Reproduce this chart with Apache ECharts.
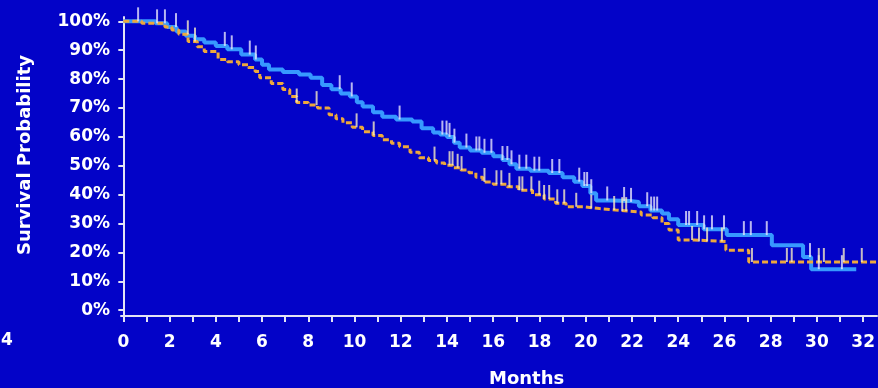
<!DOCTYPE html>
<html>
<head>
<meta charset="utf-8">
<script src="https://cdn.jsdelivr.net/npm/echarts@6/dist/echarts.min.js"></script>
<style>
html,body{margin:0;padding:0;background:#0303C8;}
#c{width:878px;height:388px;}
</style>
</head>
<body>
<div id="c"></div>
<script>
// ---- data ----
const xTickMonths = [0,1,2,3,4,5,6,7,8,9,10,11,12,13,14,15,16,17,18,19,20,21,22,23,24,25,26,27,28,29,30,31,32];
const xLabelMonths = [0,2,4,6,8,10,12,14,16,18,20,22,24,26,28,30,32];
const yTickValues = [0,10,20,30,40,50,60,70,80,90,100];

// blue arm (solid): times (months) and survival (%)
const blueTimes = [0,0.8,1.4,1.9,2.3,2.7,3.1,3.5,4.0,4.5,5.1,5.7,6.0,6.3,6.9,7.6,8.1,8.6,9.0,9.4,9.8,10.1,10.35,10.8,11.2,11.8,12.5,12.9,13.4,13.7,14.0,14.3,14.55,15.0,15.5,16.0,16.4,16.7,17.0,17.6,18.4,19.0,19.5,19.85,20.2,20.45,21.2,21.9,22.3,22.8,23.3,23.6,24.0,25.1,26.1,28.05,29.4,29.75,31.7];
const blueSurv  = [100,100,99.3,98,96.5,95,93.8,92.7,91.5,90.3,88.5,86.8,85,83.3,82.5,81.6,80.5,78,76.5,75,74,72,70.5,68.5,67,66,65.3,63,61.5,60.8,60,58,56.3,55.3,54.5,53.3,52,50.5,49,48.3,47.5,46,44.5,43,40.5,38,37.8,37.5,36,34.5,33.5,31.5,29.5,28,26,22.5,18.4,14.2,14.2];
const blueCensor = [0.64,1.46,1.8,2.28,4.39,4.69,5.47,5.73,9.36,9.88,11.95,13.8,13.98,14.11,14.32,14.84,15.27,15.4,15.62,15.92,16.4,16.61,16.79,17.13,17.43,17.78,17.99,18.55,18.86,19.72,19.94,20.06,20.24,20.93,21.66,21.96,22.66,22.83,22.96,23.09,24.34,24.47,24.82,25.12,25.46,25.98,26.84,27.14,27.83,29.7,30.08,31.08];

// orange arm (dashed)
const orangeTimes = [0,0.8,1.4,1.8,2.1,2.4,2.8,3.2,3.5,4.1,4.5,5.0,5.4,5.7,5.9,6.4,6.9,7.2,7.5,8.0,8.4,8.9,9.2,9.5,9.9,10.35,10.8,11.2,11.6,11.95,12.4,12.8,13.2,13.55,13.9,14.25,14.6,14.95,15.25,15.55,16.0,16.6,17.1,17.7,18.2,18.7,19.15,19.9,20.6,21.3,21.9,22.4,22.9,23.3,23.6,24.0,24.7,26.06,27.05,32.6];
const orangeSurv  = [100,99.3,99.3,98,97,95.5,93,91.2,89.6,86.8,86,85,84,82.6,80.5,78.5,76.4,74,71.9,71,70,67.7,66.3,64.9,63.3,61.8,60.5,59,57.8,56.6,54.7,52.8,51.8,51,50.2,49.3,48.5,47.6,46,44.4,43.6,42.7,41.5,40,38.5,37,35.8,35.2,34.7,34.3,34,33,32,30,27.8,24.3,23.8,20.8,16.7,16.7];
const orangeCensor = [2.79,3.1,7.5,8.36,10.09,10.83,13.46,14.11,14.24,14.46,14.63,15.62,16.14,16.35,16.7,17.13,17.26,17.65,17.99,18.2,18.42,18.77,19.07,19.59,20.24,21.23,21.58,21.75,24.6,24.9,25.25,25.89,27.19,28.7,28.91,30.08,30.3,31.16,31.94];

// ---- build ----
function pairs(t, s){ return t.map((v,i)=>[v, s[i]]); }
function stepAt(t, s, x){
  let v = s[0];
  for (let i=0;i<t.length;i++){ if (t[i] <= x) v = s[i]; else break; }
  return v;
}
function censorPts(c, t, s){ return c.map(x => [x, stepAt(t, s, x)]); }

const font = 'DejaVu Sans';
const chart = echarts.init(document.getElementById('c'), null, {renderer:'canvas'});
chart.setOption({
  backgroundColor: '#0303C8',
  animation: false,
  grid: {left:121, right:0, top:17, bottom:72},
  xAxis: {
    type:'value', min:-0.1, max:32.6,
    axisLine:{show:true, onZero:false, lineStyle:{color:'#E4E4F4', width:2}},
    axisTick:{show:true, customValues:xTickMonths, length:6, lineStyle:{color:'#E4E4F4', width:2}},
    axisLabel:{customValues:xLabelMonths, color:'#FFFFFF', fontFamily:font, fontWeight:'bold', fontSize:17, margin:18},
    splitLine:{show:false}
  },
  yAxis: {
    type:'value', min:-2, max:101.5,
    axisLine:{show:true, lineStyle:{color:'#E4E4F4', width:2}},
    axisTick:{show:true, customValues:yTickValues, length:5, lineStyle:{color:'#E4E4F4', width:2}},
    axisLabel:{customValues:yTickValues, formatter:'{value}%', color:'#FFFFFF', fontFamily:font, fontWeight:'bold', fontSize:17, margin:11},
    splitLine:{show:false}
  },
  graphic: [
    {type:'text', left:522-33, top:370, style:{text:'Months', fill:'#FFFFFF', font:'bold 18px "DejaVu Sans"'}},
    {type:'text', x:25, y:155, rotation:Math.PI/2, style:{text:'Survival Probability', fill:'#FFFFFF', font:'bold 18px "DejaVu Sans"', align:'center', verticalAlign:'middle'}},
    {type:'text', left:1, top:332, style:{text:'4', fill:'#FFFFFF', font:'bold 17px "DejaVu Sans"'}}
  ],
  series: [
    {type:'line', name:'Blue', step:'end', data:pairs(blueTimes, blueSurv), showSymbol:false,
     lineStyle:{color:'#3799FF', width:4}, z:2},
    {type:'line', name:'Orange', step:'end', data:pairs(orangeTimes, orangeSurv), showSymbol:false,
     lineStyle:{color:'#EDA83C', width:3, type:[6,3]}, z:3},
    {type:'scatter', name:'Blue censored', data:censorPts(blueCensor, blueTimes, blueSurv),
     symbol:'rect', symbolSize:[2,14], symbolOffset:[0,-7], itemStyle:{color:'#E6E4FB'}, z:4},
    {type:'scatter', name:'Orange censored', data:censorPts(orangeCensor, orangeTimes, orangeSurv),
     symbol:'rect', symbolSize:[2,14], symbolOffset:[0,-7], itemStyle:{color:'#F6EBC4'}, z:4}
  ]
});
</script>
</body>
</html>
